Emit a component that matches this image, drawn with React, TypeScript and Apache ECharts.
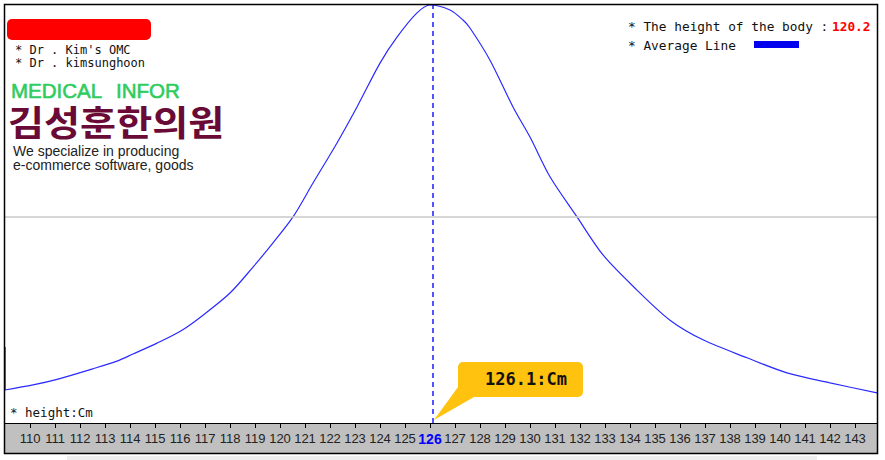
import React, { useEffect, useRef } from "react";
import * as echarts from "echarts";

// Body height (cm) along the curve and relative frequency (% of peak)
const heightsCm = [109, 110.12, 111.12, 112.48, 113.48, 114.12, 115.08, 116.08, 116.92, 118.0, 118.92, 119.72, 120.52, 121.32, 122.28, 123.08, 124.0, 124.68, 125.48, 126.0, 126.8, 127.32, 127.6, 128.4, 129.32, 130.0, 130.8, 131.88, 132.92, 134.28, 135.6, 136.92, 138.68, 140.28, 142.0, 143.88];
const frequency = [7.9, 9.1, 10.5, 12.9, 14.8, 16.5, 19.1, 22.2, 25.8, 31.1, 37.3, 43.1, 49.3, 57.4, 67.0, 75.6, 86.1, 92.3, 98.1, 100, 98.8, 96.4, 94.5, 86.8, 75.6, 68.4, 58.9, 49.3, 40.2, 31.8, 24.6, 19.9, 15.6, 12.0, 9.6, 7.2];
const edgeHeights = [109, 109];
const edgeFrequency = [18.2, 7.9];
const tickFirst = 110;
const tickLast = 143;
const markedHeight = 126;
const currentHeight = 126.1;
const bodyHeight = "120.2";
const halfLevel = 49.3;

const MONO = "'DejaVu Sans Mono', 'Liberation Mono', monospace";
const SANS = "'Liberation Sans', Arial, sans-serif";

export default function App() {
  const ref = useRef<HTMLDivElement>(null);
  useEffect(() => {
    if (!ref.current) return;
    const chart = echarts.init(ref.current, null, { renderer: "svg" });
    const line = heightsCm.map((h, i) => [h, frequency[i]]);
    const edge = edgeHeights.map((h, i) => [h, edgeFrequency[i]]);
    chart.setOption({
      animation: false,
      backgroundColor: "#ffffff",
      grid: { left: 5, top: 5, right: 8, bottom: 37, containLabel: false },
      xAxis: {
        type: "value",
        min: 109,
        max: 143.88,
        interval: 1,
        axisLine: { show: true, lineStyle: { color: "#000", width: 1 } },
        axisTick: { show: true, length: 5, inside: false, lineStyle: { color: "#000" } },
        splitLine: { show: false },
        axisLabel: {
          showMinLabel: false,
          showMaxLabel: false,
          margin: 9,
          fontFamily: SANS,
          fontSize: 13,
          color: "#222",
          formatter: (v: number) => {
            if (Math.abs(v - Math.round(v)) > 1e-6) return "";
            if (v < tickFirst || v > tickLast) return "";
            if (v === markedHeight) return "{b|" + v + "}";
            return String(v);
          },
          rich: { b: { color: "#0000ff", fontWeight: "bold", fontSize: 14, fontFamily: SANS } },
        },
      },
      yAxis: {
        type: "value",
        min: 0,
        max: 100,
        show: false,
        splitLine: { show: false },
      },
      series: [
        {
          type: "line",
          data: line,
          smooth: 0.3,
          symbol: "none",
          lineStyle: { color: "#2b2bff", width: 1.2 },
          markLine: {
            silent: true,
            symbol: "none",
            label: { show: false },
            data: [
              { yAxis: halfLevel, lineStyle: { color: "#c8c8c8", width: 1.5, type: "solid" } },
              { xAxis: currentHeight, lineStyle: { color: "#1a1aff", width: 1.5, type: [5, 4] } },
            ],
          },
        },
        {
          type: "line",
          data: edge,
          symbol: "none",
          lineStyle: { color: "#2b2bff", width: 1.5 },
        },
      ],
      graphic: [
        { type: "rect", z: -1, shape: { x: 5, y: 423, width: 872, height: 30 }, style: { fill: "#c0c0c0" } },
        { type: "rect", z: -1, shape: { x: 67, y: 456, width: 750, height: 4 }, style: { fill: "#eeeeee" } },
        { type: "rect", z: 100, shape: { x: 4.5, y: 4.5, width: 873, height: 449 }, style: { fill: "none", stroke: "#000", lineWidth: 1.5 } },
        { type: "rect", z: 10, shape: { x: 7, y: 19, width: 144, height: 21, r: 5 }, style: { fill: "#ff0000" } },
        { type: "text", z: 10, x: 15, y: 49.5, style: { text: "* Dr . Kim's OMC", font: "12px " + MONO, fill: "#111", verticalAlign: "middle", lineHeight: 12 } },
        { type: "text", z: 10, x: 15, y: 63, style: { text: "* Dr . kimsunghoon", font: "12px " + MONO, fill: "#111", verticalAlign: "middle", lineHeight: 12 } },
        { type: "text", z: 10, x: 11, y: 90, style: { text: "MEDICAL", font: "20.5px " + SANS, fill: "#2ecc5e", stroke: "#2ecc5e", lineWidth: 0.6, verticalAlign: "middle", lineHeight: 17 } },
        { type: "text", z: 10, x: 116, y: 90, style: { text: "INFOR", font: "20.5px " + SANS, fill: "#2ecc5e", stroke: "#2ecc5e", lineWidth: 0.6, verticalAlign: "middle", lineHeight: 17 } },
        { type: "text", z: 10, x: 8, y: 121, scaleX: 1.12, style: { text: "김성훈한의원", font: "bold 35px 'Noto Sans CJK KR', sans-serif", fill: "#6a0a36", verticalAlign: "middle", lineHeight: 34 } },
        { type: "text", z: 10, x: 13, y: 150.5, style: { text: "We specialize in producing", font: "14px " + SANS, fill: "#222", verticalAlign: "middle", lineHeight: 13 } },
        { type: "text", z: 10, x: 13, y: 165, style: { text: "e-commerce software, goods", font: "14px " + SANS, fill: "#222", verticalAlign: "middle", lineHeight: 13 } },
        { type: "text", z: 10, x: 628, y: 26, style: { text: "* The height of the body :", font: "12.8px " + MONO, fill: "#111", verticalAlign: "middle" } },
        { type: "text", z: 10, x: 832, y: 26, style: { text: bodyHeight, font: "bold 12.8px " + MONO, fill: "#ff0000", verticalAlign: "middle" } },
        { type: "text", z: 10, x: 628, y: 45, style: { text: "* Average Line", font: "12.8px " + MONO, fill: "#111", verticalAlign: "middle" } },
        { type: "rect", z: 10, shape: { x: 754, y: 41, width: 45, height: 7 }, style: { fill: "#0000ee" } },
        { type: "text", z: 10, x: 10, y: 412, style: { text: "* height:Cm", font: "12.5px " + MONO, fill: "#111", verticalAlign: "middle" } },
        { type: "polygon", z: 20, shape: { points: [[458, 387], [474, 397], [434, 420]] }, style: { fill: "#ffc20e" } },
        { type: "rect", z: 20, shape: { x: 458, y: 362, width: 125, height: 35, r: 5 }, style: { fill: "#ffc20e" } },
        { type: "text", z: 21, x: 485, y: 379, style: { text: currentHeight.toFixed(1) + ":Cm", font: "bold 17px " + MONO, fill: "#111", verticalAlign: "middle" } },
      ],
    });
    return () => chart.dispose();
  }, []);
  return <div ref={ref} style={{ position: "absolute", left: 0, top: 0, width: 885, height: 460 }} />;
}
